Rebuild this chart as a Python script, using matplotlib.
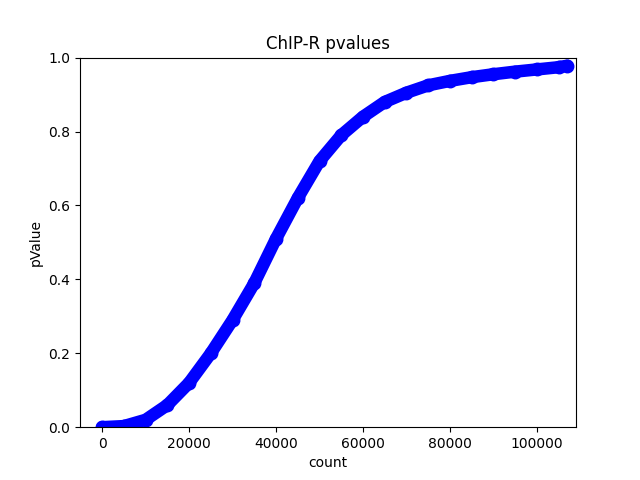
import matplotlib
matplotlib.use("Agg")
import matplotlib.pyplot as plt

counts = [0, 5000, 10000, 15000, 20000, 25000, 30000, 35000, 40000, 45000,
          50000, 55000, 60000, 65000, 70000, 75000, 80000, 85000, 90000,
          95000, 100000, 105000, 107000]
pvalues = [0.0, 0.003, 0.02, 0.06, 0.12, 0.2, 0.29, 0.39, 0.51, 0.62,
           0.72, 0.79, 0.84, 0.88, 0.905, 0.925, 0.937, 0.947, 0.955,
           0.962, 0.968, 0.974, 0.978]

fig, ax = plt.subplots(figsize=(6.4, 4.8), dpi=100)
ax.plot(counts, pvalues, color="blue", linewidth=9, solid_capstyle="round")
ax.plot(counts, pvalues, "o", color="blue", markersize=9)
ax.set_xlim(-5100, 109000)
ax.set_ylim(0, 1)
ax.set_title("ChIP-R pvalues")
ax.set_xlabel("count")
ax.set_ylabel("pValue")
fig.savefig("out.png")
